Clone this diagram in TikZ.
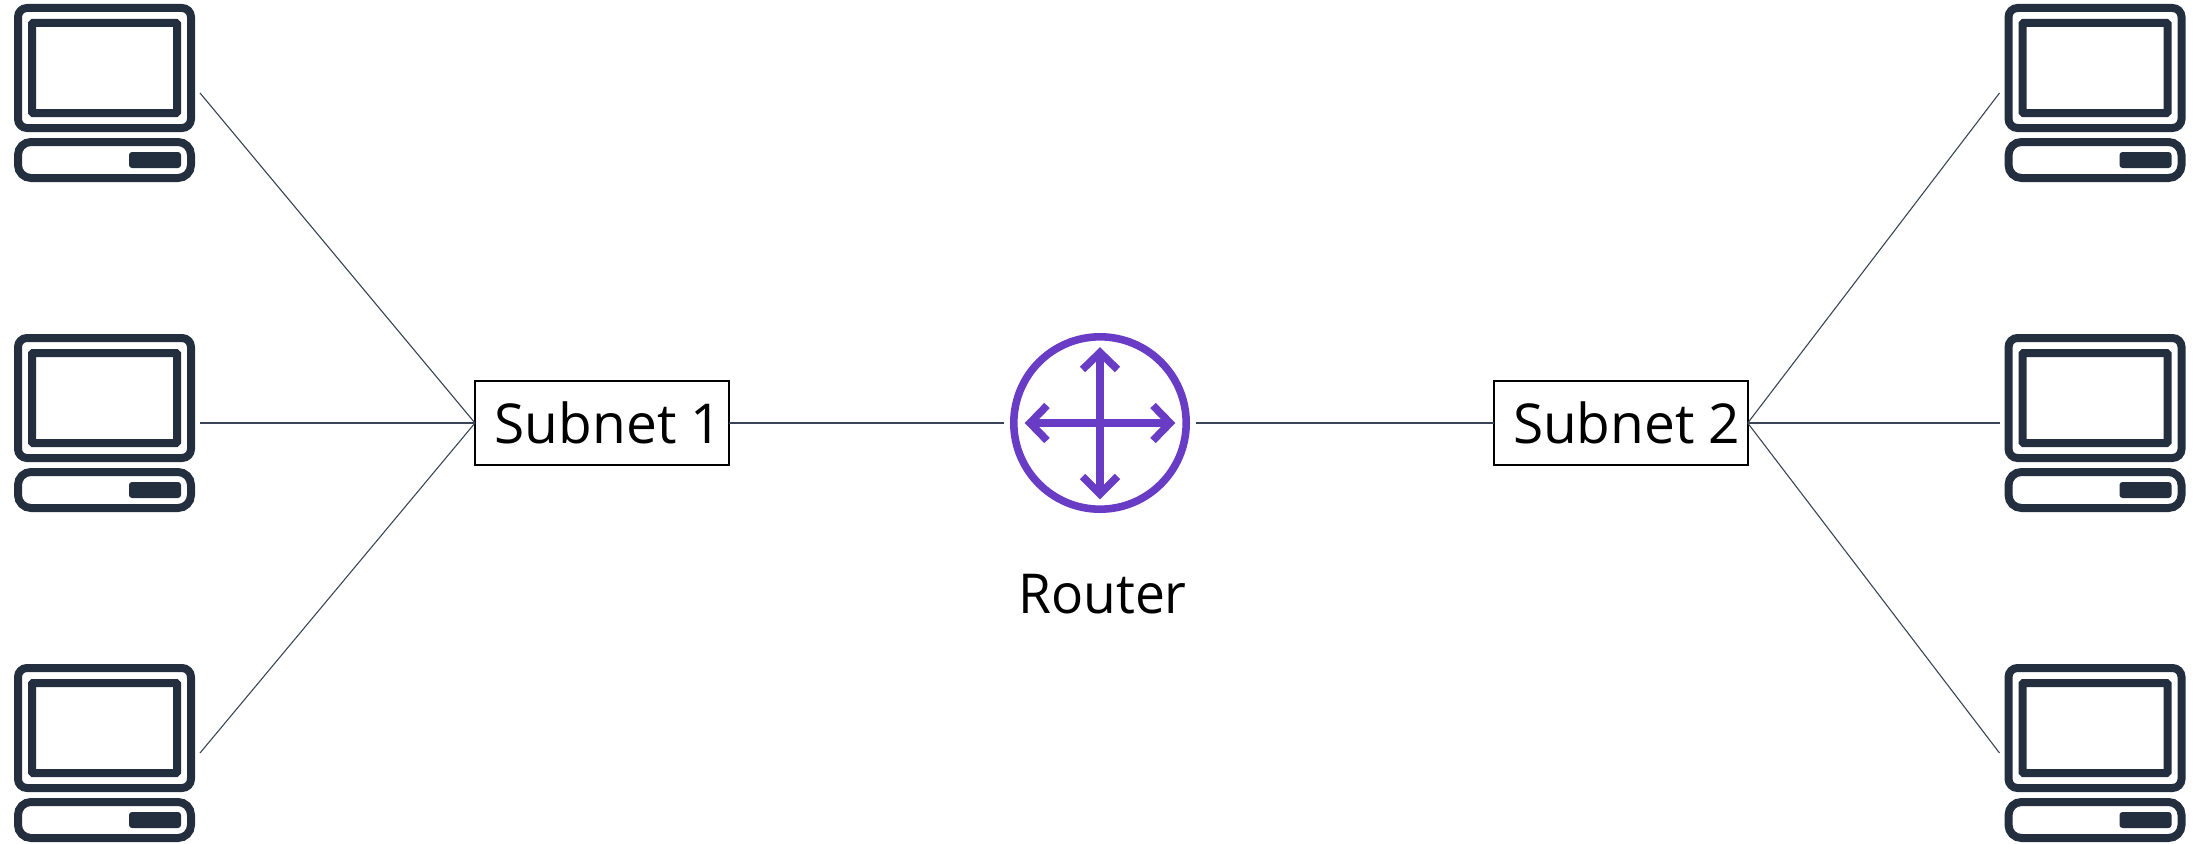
\documentclass[tikz,border=0pt]{standalone}
\usepackage{fontspec}
\setmainfont{Open Sans}
\newfontface\routerface[FakeStretch=0.97]{Open Sans}
\definecolor{pcdark}{HTML}{232F3E}
\definecolor{routerpurple}{HTML}{693CC5}
\definecolor{linkgray}{HTML}{3A4456}
\tikzset{
  x=1pt,y=-1pt,
  pcanchor/.style={inner sep=0pt,outer sep=0pt,minimum width=191pt,minimum height=178pt},
  pcline/.style={draw=pcdark,line width=8pt,rounded corners=9pt},
  link/.style={draw=linkgray,line width=1.1pt},
  subnet/.style={draw=black,fill=white,line width=1.6pt,inner sep=0pt,outer sep=0pt,minimum width=254pt,minimum height=84pt,font=\fontsize{55}{60}\selectfont},
  routerline/.style={draw=routerpurple,line width=7.6pt},
  tipline/.style={routerline,line cap=butt,line join=miter},
  pics/computer/.style={code={
    \draw[pcline] (-86.5,-85) rectangle (86.5,35);
    \draw[draw=pcdark,line width=8pt,rounded corners=1pt] (-72.5,-70) rectangle (72.5,20);
    \draw[pcline,rounded corners=13pt] (-86.5,49) rectangle (86.5,85);
    \fill[pcdark,rounded corners=3pt] (24.5,59) rectangle (76.5,75);
  }}
}
\begin{document}
\begin{tikzpicture}
\useasboundingbox (0,0) rectangle (2199,843);
\node[pcanchor] (pcA) at (104.5,93) {};
\node[pcanchor] (pcB) at (104.5,423) {};
\node[pcanchor] (pcC) at (104.5,753) {};
\node[pcanchor] (pcD) at (2095,93) {};
\node[pcanchor] (pcE) at (2095,423) {};
\node[pcanchor] (pcF) at (2095,753) {};
\foreach \xx/\yy in {104.5/93,104.5/423,104.5/753,2095/93,2095/423,2095/753}
  \pic at (\xx,\yy) {computer};
\node[subnet] (sub1) at (602,423) {\hspace*{13pt}\raisebox{1pt}{Subnet 1}};
\node[subnet] (sub2) at (1620.7,423) {\hspace*{12pt}\raisebox{1pt}{Subnet 2}};
\node[circle,inner sep=0pt,outer sep=0pt,minimum size=192pt] (router) at (1100,423) {};
\node[font=\routerface\fontsize{55}{60}\selectfont,anchor=base,inner sep=0pt] (routerlabel) at (1102.5,613) {Router};
\draw[link] (pcA.east) -- (sub1.west);
\draw[link] (pcB.east) -- (sub1.west);
\draw[link] (pcC.east) -- (sub1.west);
\draw[link] (pcD.west) -- (sub2.east);
\draw[link] (pcE.west) -- (sub2.east);
\draw[link] (pcF.west) -- (sub2.east);
\draw[link] (sub1.east) -- (router.west);
\draw[link] (router.east) -- (sub2.west);
\draw[routerline] (1100,423) circle (86.2);
\draw[routerline] (1100,353) -- (1100,494) (1030,423) -- (1170,423);
\draw[tipline] (1082.5,369.5) -- (1100,352.5) -- (1117.5,369.5);
\draw[tipline] (1082.5,476.5) -- (1100,494) -- (1117.5,476.5);
\draw[tipline] (1047,405.5) -- (1030,423) -- (1047,440.5);
\draw[tipline] (1153,405.5) -- (1170,423) -- (1153,440.5);
\end{tikzpicture}
\end{document}
